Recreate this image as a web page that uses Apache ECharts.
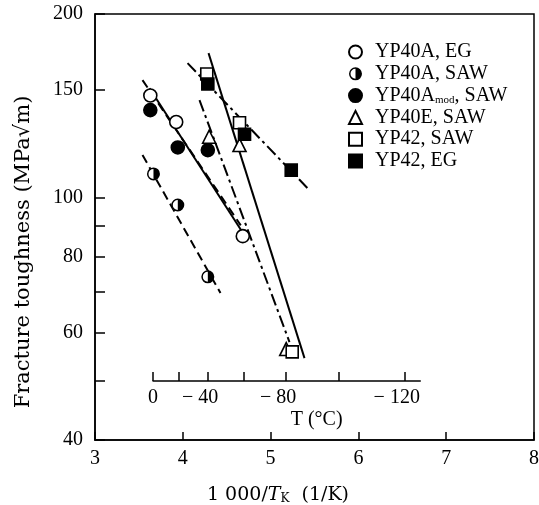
<!DOCTYPE html>
<html><head><meta charset="utf-8">
<script src="https://cdn.jsdelivr.net/npm/echarts@6/dist/echarts.min.js"></script>
<style>html,body{margin:0;padding:0;background:#fff}#c{width:539px;height:505px}</style>
</head><body><div id="c"></div>
<script>
// ---- data ----
const seriesNames = ['YP40A, EG', 'YP40A, SAW', 'YP40Amod, SAW', 'YP40E, SAW', 'YP42, SAW', 'YP42, EG'];
// x: 1000/T (1/K), y: fracture toughness (MPa√m)
const invT_YP40A_EG   = [3.63, 3.925, 4.683];
const K_YP40A_EG      = [147, 133, 86.4];
const invT_YP40A_SAW  = [3.666, 3.943, 4.285];
const K_YP40A_SAW     = [109.3, 97.2, 74.1];
const invT_YP40Amod   = [3.63, 3.943, 4.285];
const K_YP40Amod      = [139.1, 120.8, 119.6];
const invT_YP40E      = [4.30, 4.646, 5.178];
const K_YP40E         = [125.8, 121.9, 56.4];
const invT_YP42_SAW   = [4.273, 4.646, 5.246];
const K_YP42_SAW      = [159.4, 132.6, 55.8];
const invT_YP42_EG    = [4.285, 4.703, 5.235];
const K_YP42_EG       = [153.5, 127.0, 110.9];
// fitted trend lines: [x1, x2] and [y1, y2]
const fitX_YP40A_EG  = [3.621, 4.680]; const fitY_YP40A_EG  = [151.1, 87.7];
const fitX_YP40A_SAW = [3.541, 4.429]; const fitY_YP40A_SAW = [117.4, 69.7];
const fitX_YP40Amod  = [3.541, 4.660]; const fitY_YP40Amod  = [155.8, 90.0];
const fitX_YP40E     = [4.190, 5.215]; const fitY_YP40E     = [144.5, 57.9];
const fitX_YP42_SAW  = [4.293, 5.386]; const fitY_YP42_SAW  = [172.5, 54.5];
const fitX_YP42_EG   = [4.054, 5.420]; const fitY_YP42_EG   = [166.1, 103.6];
// axes
const xTicks = [3, 4, 5, 6, 7, 8];
const yTicks = [40, 50, 60, 70, 80, 90, 100, 150, 200];
const yLabels = [40, 60, 80, 100, 150, 200];
const tempTicks = [0, -20, -40, -60, -80, -100, -120];
const tempLabels = [0, -40, -80, -120];
const tempRange = [0, -124];

// ---- layout / styles ----
const G = {left: 95, top: 14, width: 439, height: 426};
const xMin = 3, xMax = 8;
const kinv = t => 1000 / (t + 273.15);
const px = v => G.left + (v - xMin) / (xMax - xMin) * G.width;
const tMin = kinv(tempRange[0]), tMax = kinv(tempRange[1]);
const SERIF = 'Liberation Serif';
const WIDE = 'DejaVu Serif';
const halfCircle = 'path://M10,0A10,10,0,1,1,10,20A10,10,0,1,1,10,0ZM10,2.3A7.7,7.7,0,1,0,10,17.7A7.7,7.7,0,1,0,10,2.3ZM10,2.3A7.7,7.7,0,0,1,10,17.7Z';

const pts = (xs, ys) => xs.map((x, i) => [x, ys[i]]);
const marks = [
  {x: invT_YP40A_EG,  y: K_YP40A_EG,  fx: fitX_YP40A_EG,  fy: fitY_YP40A_EG,  symbol: 'circle', fill: '#fff', size: 13, dash: 'solid'},
  {x: invT_YP40A_SAW, y: K_YP40A_SAW, fx: fitX_YP40A_SAW, fy: fitY_YP40A_SAW, symbol: halfCircle, fill: '#000', size: 13, dash: [9, 5]},
  {x: invT_YP40Amod,  y: K_YP40Amod,  fx: fitX_YP40Amod,  fy: fitY_YP40Amod,  symbol: 'circle', fill: '#000', size: 13, dash: [9, 5]},
  {x: invT_YP40E,     y: K_YP40E,     fx: fitX_YP40E,     fy: fitY_YP40E,     symbol: 'triangle', fill: '#fff', size: 13, dash: [12, 4, 3, 4]},
  {x: invT_YP42_SAW,  y: K_YP42_SAW,  fx: fitX_YP42_SAW,  fy: fitY_YP42_SAW,  symbol: 'rect', fill: '#fff', size: 12, dash: 'solid'},
  {x: invT_YP42_EG,   y: K_YP42_EG,   fx: fitX_YP42_EG,   fy: fitY_YP42_EG,   symbol: 'rect', fill: '#000', size: 12, dash: [12, 4, 3, 4]}
];

const series = [];
marks.forEach((m, i) => {
  series.push({
    name: seriesNames[i] + ' fit', type: 'line', data: pts(m.fx, m.fy),
    symbol: 'none', silent: true, z: 2,
    lineStyle: {color: '#000', width: 2, type: m.dash}
  });
});
marks.forEach((m, i) => {
  const isHalf = m.symbol === halfCircle;
  if (isHalf) {
    series.push({
      name: seriesNames[i] + ' bg', type: 'scatter', data: pts(m.x, m.y),
      symbol: 'circle', symbolSize: m.size - 1, z: 4, silent: true,
      itemStyle: {color: '#fff', opacity: 1}
    });
  }
  series.push({
    name: seriesNames[i], type: 'scatter', data: pts(m.x, m.y),
    symbol: m.symbol, symbolSize: m.size, z: 5,
    itemStyle: isHalf ? {color: '#000', borderWidth: 0, opacity: 1}
                      : {color: m.fill, borderColor: '#000', borderWidth: 1.6, opacity: 1}
  });
});

const chart = echarts.init(document.getElementById('c'), null, {renderer: 'canvas'});
chart.setOption({
  animation: false,
  backgroundColor: '#fff',
  grid: [
    {left: G.left, top: G.top, width: G.width, height: G.height, outerBoundsMode: 'none', containLabel: false,
     show: true, borderColor: '#000', borderWidth: 1.5, backgroundColor: 'transparent'},
    {left: px(tMin), width: px(tMax) - px(tMin), top: 380, height: 1, outerBoundsMode: 'none', containLabel: false}
  ],
  legend: {
    data: seriesNames, orient: 'vertical', left: 343, top: 37,
    itemWidth: 13, itemHeight: 13, itemGap: 1.8,
    formatter: n => n === 'YP40Amod, SAW' ? 'YP40A{s|mod}, SAW' : n,
    textStyle: {fontFamily: SERIF, fontSize: 20, lineHeight: 20, color: '#000', padding: [0, 0, 0, 8],
      rich: {s: {fontFamily: SERIF, fontSize: 11, verticalAlign: 'bottom', lineHeight: 20, color: '#000'}}}
  },
  xAxis: [
    {
      gridIndex: 0, type: 'value', min: xMin, max: xMax, interval: 1,
      axisLine: {lineStyle: {color: '#000', width: 1.5}},
      axisTick: {inside: true, length: 8, lineStyle: {color: '#000', width: 1.5}},
      axisLabel: {color: '#000', fontFamily: SERIF, fontSize: 20, margin: 9, showMaxLabel: true, showMinLabel: true},
      splitLine: {show: false},
      name: '1 000/{i|T}{s|K}  (1/K)', nameLocation: 'middle', nameGap: 46,
      nameTextStyle: {color: '#000', fontFamily: WIDE, fontSize: 19, padding: [0, 73, 0, 0],
        rich: {i: {fontFamily: WIDE, fontStyle: 'italic', fontSize: 19, color: '#000'},
               s: {fontFamily: WIDE, fontSize: 12, verticalAlign: 'bottom', color: '#000'}}}
    },
    {
      gridIndex: 1, type: 'value', min: tMin, max: tMax, position: 'bottom',
      axisLine: {lineStyle: {color: '#000', width: 1.5}},
      axisTick: {inside: true, length: 9, customValues: tempTicks.map(kinv), lineStyle: {color: '#000', width: 1.5}},
      axisLabel: {
        customValues: tempLabels.map(kinv), color: '#000', fontFamily: SERIF, fontSize: 20, margin: 7,
        formatter: v => { const t = Math.round(1000 / v - 273.15); return t === 0 ? '0' : '{a|− }' + Math.abs(t) + '{h|− }'; },
        rich: {a: {color: '#000', fontFamily: SERIF, fontSize: 20}, h: {color: 'rgba(0,0,0,0)', fontFamily: SERIF, fontSize: 20}}
      },
      splitLine: {show: false},
      name: 'T (°C)', nameLocation: 'middle', nameGap: 29,
      nameTextStyle: {color: '#000', fontFamily: SERIF, fontSize: 20, padding: [0, 0, 0, 60]}
    }
  ],
  yAxis: [
    {
      gridIndex: 0, type: 'log', logBase: 10, min: 40, max: 200,
      axisLine: {lineStyle: {color: '#000', width: 1.5}},
      axisTick: {inside: true, length: 10, customValues: yTicks, lineStyle: {color: '#000', width: 1.5}},
      axisLabel: {customValues: yLabels, color: '#000', fontFamily: SERIF, fontSize: 20, margin: 12},
      minorTick: {show: false}, splitLine: {show: false},
      name: 'Fracture toughness (MPa√m)', nameLocation: 'middle', nameRotate: 90, nameGap: 61,
      nameTextStyle: {color: '#000', fontFamily: WIDE, fontSize: 21, padding: [0, 50, 0, 0]}
    },
    {gridIndex: 1, type: 'value', show: false, min: 0, max: 1}
  ],
  series: series
});
</script></body></html>
